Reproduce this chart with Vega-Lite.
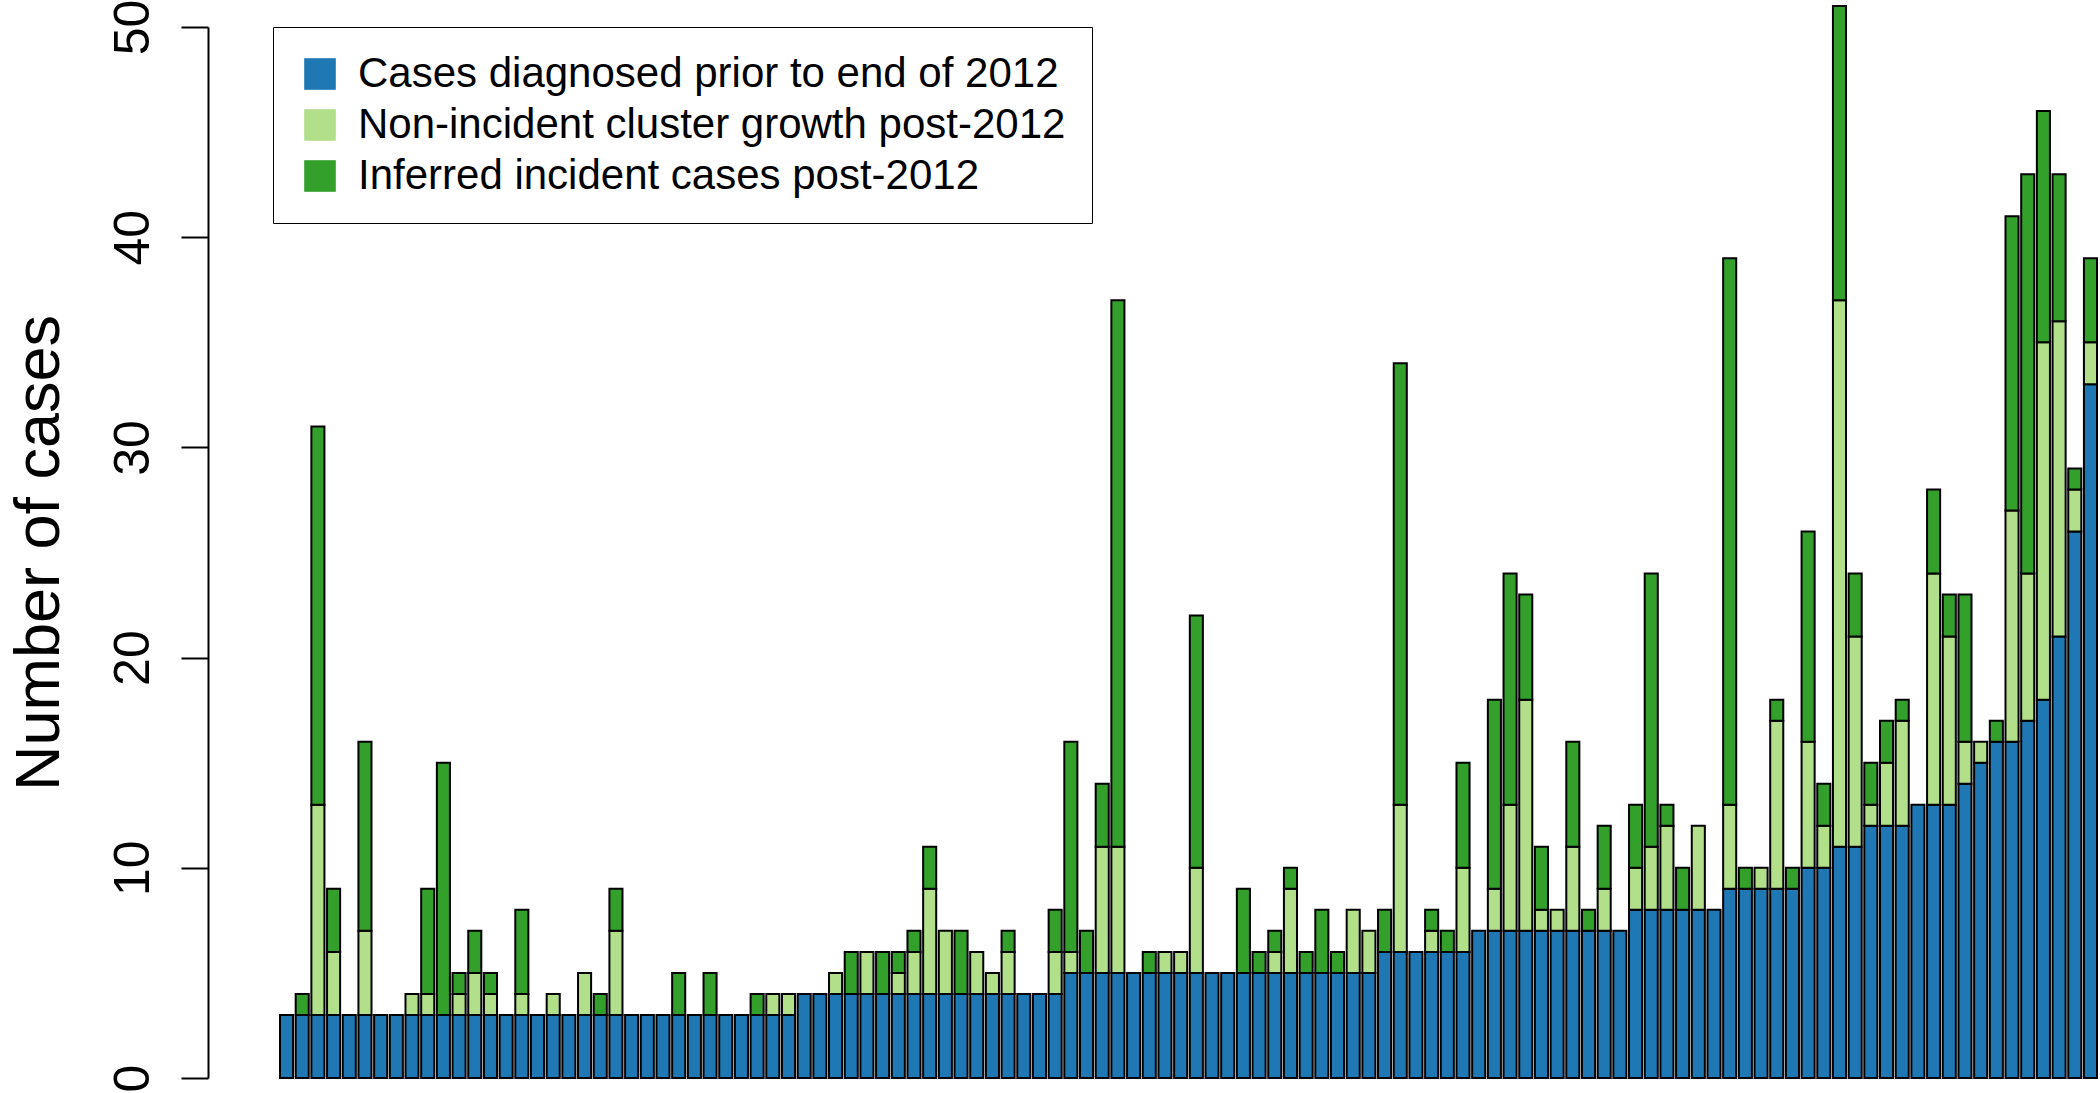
{
  "$schema": "https://vega.github.io/schema/vega-lite/v6.json",
  "autosize": "none",
  "width": 1817,
  "height": 1051,
  "padding": {"left": 280, "top": 27, "right": 3, "bottom": 15},
  "background": "white",
  "config": {"view": {"stroke": null}, "font": "Liberation Sans"},
  "data": {"values": [
    {"id":0,"base":3,"growth":0,"incident":0},{"id":1,"base":3,"growth":0,"incident":1},{"id":2,"base":3,"growth":10,"incident":18},{"id":3,"base":3,"growth":3,"incident":3},
    {"id":4,"base":3,"growth":0,"incident":0},{"id":5,"base":3,"growth":4,"incident":9},{"id":6,"base":3,"growth":0,"incident":0},{"id":7,"base":3,"growth":0,"incident":0},
    {"id":8,"base":3,"growth":1,"incident":0},{"id":9,"base":3,"growth":1,"incident":5},{"id":10,"base":3,"growth":0,"incident":12},{"id":11,"base":3,"growth":1,"incident":1},
    {"id":12,"base":3,"growth":2,"incident":2},{"id":13,"base":3,"growth":1,"incident":1},{"id":14,"base":3,"growth":0,"incident":0},{"id":15,"base":3,"growth":1,"incident":4},
    {"id":16,"base":3,"growth":0,"incident":0},{"id":17,"base":3,"growth":1,"incident":0},{"id":18,"base":3,"growth":0,"incident":0},{"id":19,"base":3,"growth":2,"incident":0},
    {"id":20,"base":3,"growth":0,"incident":1},{"id":21,"base":3,"growth":4,"incident":2},{"id":22,"base":3,"growth":0,"incident":0},{"id":23,"base":3,"growth":0,"incident":0},
    {"id":24,"base":3,"growth":0,"incident":0},{"id":25,"base":3,"growth":0,"incident":2},{"id":26,"base":3,"growth":0,"incident":0},{"id":27,"base":3,"growth":0,"incident":2},
    {"id":28,"base":3,"growth":0,"incident":0},{"id":29,"base":3,"growth":0,"incident":0},{"id":30,"base":3,"growth":0,"incident":1},{"id":31,"base":3,"growth":1,"incident":0},
    {"id":32,"base":3,"growth":1,"incident":0},{"id":33,"base":4,"growth":0,"incident":0},{"id":34,"base":4,"growth":0,"incident":0},{"id":35,"base":4,"growth":1,"incident":0},
    {"id":36,"base":4,"growth":0,"incident":2},{"id":37,"base":4,"growth":2,"incident":0},{"id":38,"base":4,"growth":0,"incident":2},{"id":39,"base":4,"growth":1,"incident":1},
    {"id":40,"base":4,"growth":2,"incident":1},{"id":41,"base":4,"growth":5,"incident":2},{"id":42,"base":4,"growth":3,"incident":0},{"id":43,"base":4,"growth":0,"incident":3},
    {"id":44,"base":4,"growth":2,"incident":0},{"id":45,"base":4,"growth":1,"incident":0},{"id":46,"base":4,"growth":2,"incident":1},{"id":47,"base":4,"growth":0,"incident":0},
    {"id":48,"base":4,"growth":0,"incident":0},{"id":49,"base":4,"growth":2,"incident":2},{"id":50,"base":5,"growth":1,"incident":10},{"id":51,"base":5,"growth":0,"incident":2},
    {"id":52,"base":5,"growth":6,"incident":3},{"id":53,"base":5,"growth":6,"incident":26},{"id":54,"base":5,"growth":0,"incident":0},{"id":55,"base":5,"growth":0,"incident":1},
    {"id":56,"base":5,"growth":1,"incident":0},{"id":57,"base":5,"growth":1,"incident":0},{"id":58,"base":5,"growth":5,"incident":12},{"id":59,"base":5,"growth":0,"incident":0},
    {"id":60,"base":5,"growth":0,"incident":0},{"id":61,"base":5,"growth":0,"incident":4},{"id":62,"base":5,"growth":0,"incident":1},{"id":63,"base":5,"growth":1,"incident":1},
    {"id":64,"base":5,"growth":4,"incident":1},{"id":65,"base":5,"growth":0,"incident":1},{"id":66,"base":5,"growth":0,"incident":3},{"id":67,"base":5,"growth":0,"incident":1},
    {"id":68,"base":5,"growth":3,"incident":0},{"id":69,"base":5,"growth":2,"incident":0},{"id":70,"base":6,"growth":0,"incident":2},{"id":71,"base":6,"growth":7,"incident":21},
    {"id":72,"base":6,"growth":0,"incident":0},{"id":73,"base":6,"growth":1,"incident":1},{"id":74,"base":6,"growth":0,"incident":1},{"id":75,"base":6,"growth":4,"incident":5},
    {"id":76,"base":7,"growth":0,"incident":0},{"id":77,"base":7,"growth":2,"incident":9},{"id":78,"base":7,"growth":6,"incident":11},{"id":79,"base":7,"growth":11,"incident":5},
    {"id":80,"base":7,"growth":1,"incident":3},{"id":81,"base":7,"growth":1,"incident":0},{"id":82,"base":7,"growth":4,"incident":5},{"id":83,"base":7,"growth":0,"incident":1},
    {"id":84,"base":7,"growth":2,"incident":3},{"id":85,"base":7,"growth":0,"incident":0},{"id":86,"base":8,"growth":2,"incident":3},{"id":87,"base":8,"growth":3,"incident":13},
    {"id":88,"base":8,"growth":4,"incident":1},{"id":89,"base":8,"growth":0,"incident":2},{"id":90,"base":8,"growth":4,"incident":0},{"id":91,"base":8,"growth":0,"incident":0},
    {"id":92,"base":9,"growth":4,"incident":26},{"id":93,"base":9,"growth":0,"incident":1},{"id":94,"base":9,"growth":1,"incident":0},{"id":95,"base":9,"growth":8,"incident":1},
    {"id":96,"base":9,"growth":0,"incident":1},{"id":97,"base":10,"growth":6,"incident":10},{"id":98,"base":10,"growth":2,"incident":2},{"id":99,"base":11,"growth":26,"incident":14},
    {"id":100,"base":11,"growth":10,"incident":3},{"id":101,"base":12,"growth":1,"incident":2},{"id":102,"base":12,"growth":3,"incident":2},{"id":103,"base":12,"growth":5,"incident":1},
    {"id":104,"base":13,"growth":0,"incident":0},{"id":105,"base":13,"growth":11,"incident":4},{"id":106,"base":13,"growth":8,"incident":2},{"id":107,"base":14,"growth":2,"incident":7},
    {"id":108,"base":15,"growth":1,"incident":0},{"id":109,"base":16,"growth":0,"incident":1},{"id":110,"base":16,"growth":11,"incident":14},{"id":111,"base":17,"growth":7,"incident":19},
    {"id":112,"base":18,"growth":17,"incident":11},{"id":113,"base":21,"growth":15,"incident":7},{"id":114,"base":26,"growth":2,"incident":1},{"id":115,"base":33,"growth":2,"incident":4}
  ]},
  "transform": [
    {"fold": ["base", "growth", "incident"], "as": ["key", "value"]},
    {"filter": "datum.value > 0"}
  ],
  "mark": {"type": "bar", "stroke": "black", "strokeWidth": 2},
  "encoding": {
    "x": {"field": "id", "type": "ordinal", "axis": null,
          "scale": {"paddingInner": 0.167, "paddingOuter": 0}},
    "y": {"field": "value", "type": "quantitative", "stack": "zero",
          "scale": {"domain": [0, 50], "nice": false, "zero": true},
          "axis": {
            "title": "Number of cases",
            "values": [0, 10, 20, 30, 40, 50],
            "offset": 72,
            "grid": false,
            "domainColor": "black", "domainWidth": 2,
            "tickColor": "black", "tickWidth": 2, "tickSize": 27,
            "labelFontSize": 50, "labelColor": "black", "labelFont": "Liberation Sans",
            "labelAngle": -90, "labelAlign": "center", "labelBaseline": "alphabetic",
            "labelPadding": 33, "labelOverlap": false, "labelFlush": false,
            "titleFontSize": 63, "titleFontWeight": "normal", "titleColor": "black", "titleFont": "Liberation Sans",
            "titleAngle": -90, "titleAlign": "center", "titleBaseline": "alphabetic",
            "titleX": -150, "titleY": 525.5
          }},
    "color": {"field": "key", "type": "nominal",
              "scale": {"domain": ["base", "growth", "incident"], "range": ["#1F78B4", "#B2DF8A", "#33A02C"]},
              "legend": {
                "title": null, "orient": "none", "legendX": -7, "legendY": 0,
                "symbolType": "square", "symbolSize": 1000, "symbolStrokeWidth": 0, "symbolOpacity": 1,
                "labelFontSize": 42, "labelFont": "Liberation Sans", "labelColor": "black",
                "labelOffset": 17, "labelLimit": 0, "rowPadding": 9, "padding": 26,
                "strokeColor": "black", "fillColor": "white",
                "encode": {"legend": {"update": {"strokeWidth": {"value": 2}}}},
                "labelExpr": "datum.label == 'base' ? 'Cases diagnosed prior to end of 2012' : datum.label == 'growth' ? 'Non-incident cluster growth post-2012' : 'Inferred incident cases post-2012'"
              }},
    "order": {"field": "key", "sort": "ascending"}
  }
}
